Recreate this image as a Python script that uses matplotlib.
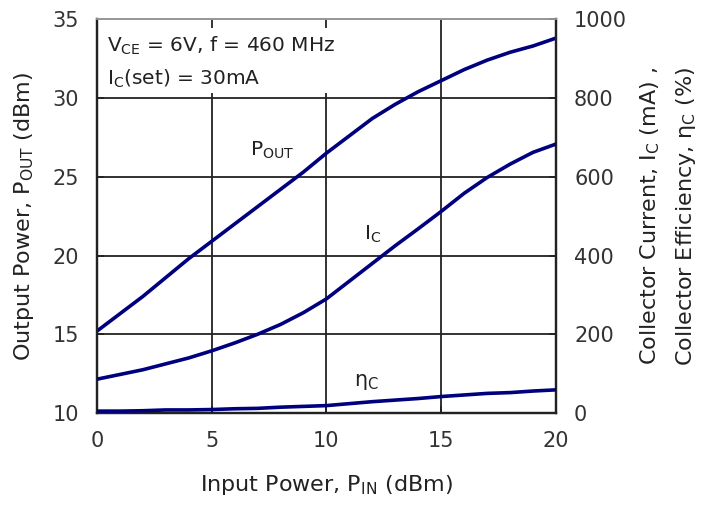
import matplotlib.pyplot as plt
from matplotlib.patches import Rectangle

# dados
p_in = list(range(0, 21))
p_out = [15.2, 16.3, 17.4, 18.6, 19.8, 20.9, 22.0, 23.1, 24.2, 25.3, 26.5,
         27.6, 28.7, 29.6, 30.4, 31.1, 31.8, 32.4, 32.9, 33.3, 33.8]
i_c = [86, 98, 110, 125, 140, 158, 178, 200, 225, 255, 290,
       335, 380, 425, 468, 512, 558, 598, 632, 662, 683]
eta_c = [5, 5, 6, 8, 8, 9, 11, 12, 15, 17, 19,
         24, 29, 33, 37, 42, 46, 50, 52, 56, 59]

x_ticks = [0, 5, 10, 15, 20]
left_ticks = [10, 15, 20, 25, 30, 35]
right_ticks = [0, 200, 400, 600, 800, 1000]

cor = '#00007f'
texto = '#222222'
plt.rcParams['font.family'] = ['DejaVu Sans']
plt.rcParams['font.size'] = 15

fig = plt.figure(figsize=(7.02, 5.05), dpi=100)
ax = fig.add_axes([0.138, 0.182, 0.654, 0.780])
ax2 = ax.twinx()

ax.set_xlim(0, 20)
ax.set_ylim(10, 35)
ax2.set_ylim(0, 1000)
ax.set_xticks(x_ticks)
ax.set_yticks(left_ticks)
ax2.set_yticks(right_ticks)

ax.grid(True, color=texto, linewidth=1.3)
ax.set_axisbelow(True)
for a in (ax, ax2):
    a.tick_params(direction='in', length=5, width=1.3, colors=texto,
                  labelcolor='#333333', labelsize=15, pad=13)
    for s in ('left', 'right', 'bottom'):
        a.spines[s].set_linewidth(1.6)
        a.spines[s].set_color(texto)
    a.spines['top'].set_color('#999999')
    a.spines['top'].set_linewidth(1.3)
# marcas no topo (ficam por cima da caixa branca, no eixo gêmeo)
ax2.tick_params(axis='x', top=True, direction='in', length=5, width=1.3, colors=texto)

# caixa branca atrás do texto das condições
ax.add_patch(Rectangle((0, 0.812), 0.525, 0.165, transform=ax.transAxes,
                       facecolor='white', edgecolor='none', zorder=1.5))

ax.plot(p_in, p_out, color=cor, linewidth=2.6, zorder=3)
ax2.plot(p_in, i_c, color=cor, linewidth=2.6, zorder=3)
ax2.plot(p_in, eta_c, color=cor, linewidth=2.6, zorder=3)

ax.text(0.45, 33.3, r'V$_{\rm CE}$ = 6V, f = 460 MHz', fontsize=14.5, color=texto, va='center', zorder=4)
ax.text(0.45, 31.2, r'I$_{\rm C}$(set) = 30mA', fontsize=14.5, color=texto, va='center', zorder=4)
ax.text(6.65, 26.7, r'P$_{\rm OUT}$', fontsize=14.5, color=texto, va='center')
ax2.text(11.65, 455, r'I$_{\rm C}$', fontsize=14.5, color=texto, va='center')
ax2.text(11.2, 78, r'η$_{\rm C}$', fontsize=15, color=texto, va='center')

ax.set_xlabel(r'Input Power, P$_{\rm IN}$ (dBm)', fontsize=16, color=texto, labelpad=16)
ax.set_ylabel(r'Output Power, P$_{\rm OUT}$ (dBm)', fontsize=16, color=texto, labelpad=12)
ax2.set_ylabel('Collector Current, I$_{\\rm C}$ (mA) ,\nCollector Efficiency, η$_{\\rm C}$ (%)',
               fontsize=16, color=texto, labelpad=8, linespacing=1.7)

fig.savefig('out.png', dpi=100)
